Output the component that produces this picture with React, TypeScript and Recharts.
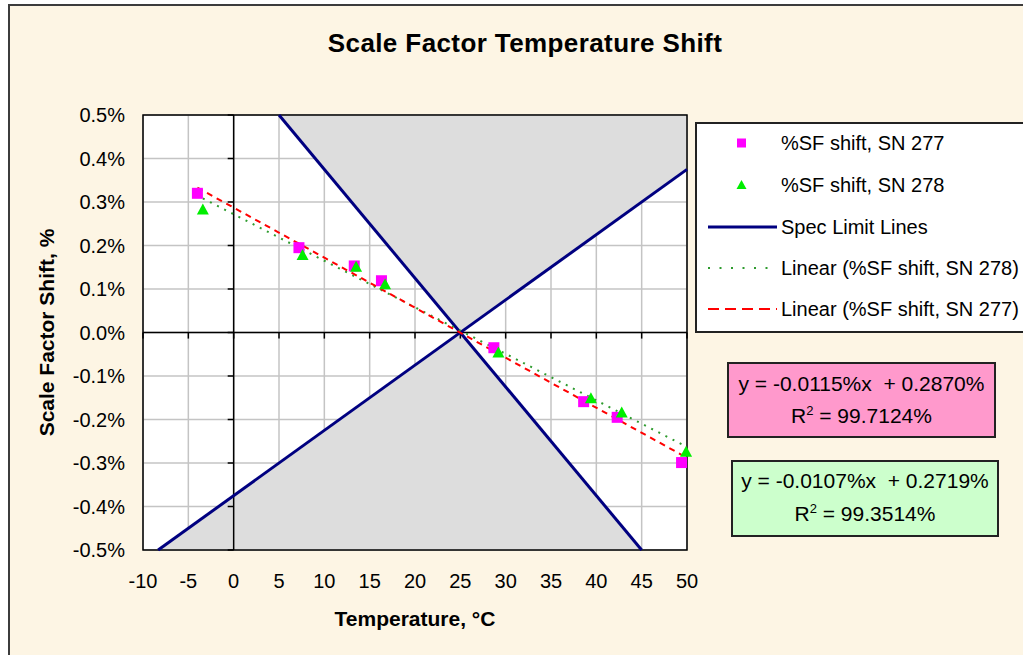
import React from 'react';
import {
  ComposedChart,
  Scatter,
  Line,
  Area,
  XAxis,
  YAxis,
  CartesianGrid,
  ReferenceLine,
  ReferenceArea,
  Label,
} from 'recharts';

// ---------- data ----------
const xTicks = [-10, -5, 0, 5, 10, 15, 20, 25, 30, 35, 40, 45, 50];
const yTicks = [-0.5, -0.4, -0.3, -0.2, -0.1, 0, 0.1, 0.2, 0.3, 0.4, 0.5];

const sn277Temp = [-4, 7.2, 13.3, 16.3, 28.7, 38.6, 42.3, 49.4];
const sn277Shift = [0.32, 0.195, 0.153, 0.119, -0.035, -0.159, -0.195, -0.299];

const sn278Temp = [-3.4, 7.6, 13.5, 16.7, 29.2, 39.4, 42.8, 49.9];
const sn278Shift = [0.283, 0.178, 0.151, 0.111, -0.046, -0.151, -0.184, -0.274];

// linear trendlines (from the displayed equations)
const trend277Coef = [-0.0115, 0.287];
const trend278Coef = [-0.0107, 0.2719];

// spec limit lines
const specFallTemp = [5, 45];
const specFallShift = [0.5, -0.5];
const specRiseTemp = [-8.33, 50];
const specRiseShift = [-0.5, 0.375];

// out-of-spec shaded zones (low/high bounds)
const topZoneTemp = [5, 25, 50];
const topZoneLow = [0.5, 0, 0.375];
const topZoneHigh = [0.5, 0.5, 0.5];
const bottomZoneTemp = [-8.33, 25, 45];
const bottomZoneLow = [-0.5, -0.5, -0.5];
const bottomZoneHigh = [-0.5, 0, -0.5];

const legendLabels = [
  '%SF shift, SN 277',
  '%SF shift, SN 278',
  'Spec Limit Lines',
  'Linear (%SF shift, SN 278)',
  'Linear (%SF shift, SN 277)',
];

// ---------- build ----------
const pts = (xs: number[], ys: number[]) => xs.map((x, i) => ({ x, y: ys[i] }));
const zone = (xs: number[], lo: number[], hi: number[]) =>
  xs.map((x, i) => ({ x, range: [lo[i], hi[i]] }));
const trend = (xs: number[], c: number[]) => {
  const a = Math.min(...xs);
  const b = Math.max(...xs);
  return [a, b].map((x) => ({ x, y: c[0] * x + c[1] }));
};

const data277 = pts(sn277Temp, sn277Shift);
const data278 = pts(sn278Temp, sn278Shift);
const trend277 = trend(sn277Temp, trend277Coef);
const trend278 = trend(sn278Temp, trend278Coef);
const specFall = pts(specFallTemp, specFallShift);
const specRise = pts(specRiseTemp, specRiseShift);
const topZone = zone(topZoneTemp, topZoneLow, topZoneHigh);
const bottomZone = zone(bottomZoneTemp, bottomZoneLow, bottomZoneHigh);

const FONT = '"Liberation Sans", Arial, sans-serif';
const MAGENTA = '#FF00FF';
const GREEN = '#00EE00';
const NAVY = '#000080';

const Square = (p: any) => (
  <rect x={p.cx - 5.5} y={p.cy - 5.5} width={11} height={11} fill={MAGENTA} />
);
const Tri = (p: any) => (
  <polygon
    points={`${p.cx},${p.cy - 6} ${p.cx + 6},${p.cy + 5} ${p.cx - 6},${p.cy + 5}`}
    fill={GREEN}
  />
);

const fmtY = (v: number) => `${v.toFixed(1)}%`;

const YLabel = (props: any) => {
  const vb = props.viewBox;
  const cx = vb.x - 17;
  const cy = vb.y + vb.height / 2;
  return (
    <text
      x={cx}
      y={cy}
      transform={`rotate(-90 ${cx} ${cy})`}
      textAnchor="middle"
      dominantBaseline="central"
      fontFamily={FONT}
      fontWeight="bold"
      fontSize={21}
      fill="#000"
    >
      Scale Factor Shift, %
    </text>
  );
};

export default function App() {
  const legendRows = [143, 185, 227, 268, 309];
  return (
    <div
      style={{
        position: 'relative',
        width: 1023,
        height: 655,
        overflow: 'hidden',
        background: '#fff',
        fontFamily: FONT,
      }}
    >
      <style>{`body{margin:0}`}</style>
      <div
        style={{
          position: 'absolute',
          left: 8,
          top: 4,
          width: 1100,
          height: 700,
          background: '#FDF5E4',
          border: '2px solid #3c3c3c',
        }}
      />
      <div style={{ position: 'absolute', left: 0, top: 0 }}>
        <ComposedChart
          width={1023}
          height={655}
          margin={{ top: 115, right: 336, bottom: 65, left: 63 }}
        >
          <CartesianGrid fill="#fff" stroke="#C4C4C4" strokeWidth={1.5} />
          <XAxis
            type="number"
            dataKey="x"
            domain={[-10, 50]}
            ticks={xTicks}
            interval={0}
            axisLine={false}
            tickLine={false}
            tickSize={0}
            tickMargin={24}
            height={40}
            tick={{ fill: '#000', fontSize: 20, fontFamily: FONT }}
          >
            <Label
              value="Temperature, °C"
              position="bottom"
              offset={21}
              style={{ fontFamily: FONT, fontWeight: 'bold', fontSize: 21, fill: '#000' }}
            />
          </XAxis>
          <YAxis
            type="number"
            dataKey="y"
            domain={[-0.5, 0.5]}
            ticks={yTicks}
            interval={0}
            axisLine={false}
            tickLine={false}
            tickSize={0}
            tickMargin={18}
            width={80}
            tickFormatter={fmtY}
            tick={{ fill: '#000', fontSize: 20, fontFamily: FONT }}
          >
            <Label content={YLabel} position="left" />
          </YAxis>

          <Area
            data={topZone}
            dataKey="range"
            type="linear"
            fill="#DDDDDD"
            fillOpacity={1}
            stroke="none"
            isAnimationActive={false}
          />
          <Area
            data={bottomZone}
            dataKey="range"
            type="linear"
            fill="#DDDDDD"
            fillOpacity={1}
            stroke="none"
            isAnimationActive={false}
          />

          <ReferenceLine x={0} stroke="#000" strokeWidth={1.5} />
          <ReferenceLine y={0} stroke="#000" strokeWidth={1.5} />
          {yTicks.map((v) => (
            <ReferenceLine
              key={'ty' + v}
              segment={[
                { x: -0.66, y: v },
                { x: 0, y: v },
              ]}
              stroke="#000"
              strokeWidth={1.5}
            />
          ))}
          {xTicks.map((v) => (
            <ReferenceLine
              key={'tx' + v}
              segment={[
                { x: v, y: 0 },
                { x: v, y: -0.014 },
              ]}
              stroke="#000"
              strokeWidth={1.5}
            />
          ))}

          <Line
            data={specFall}
            dataKey="y"
            type="linear"
            stroke={NAVY}
            strokeWidth={3}
            dot={false}
            isAnimationActive={false}
          />
          <Line
            data={specRise}
            dataKey="y"
            type="linear"
            stroke={NAVY}
            strokeWidth={3}
            dot={false}
            isAnimationActive={false}
          />

          <Scatter data={data277} dataKey="y" shape={Square} isAnimationActive={false} />
          <Scatter data={data278} dataKey="y" shape={Tri} isAnimationActive={false} />

          <Line
            data={trend278}
            dataKey="y"
            type="linear"
            stroke="#2E9B2E"
            strokeWidth={2}
            strokeDasharray="2 6"
            dot={false}
            isAnimationActive={false}
          />
          <Line
            data={trend277}
            dataKey="y"
            type="linear"
            stroke="#FF0000"
            strokeWidth={2}
            strokeDasharray="6 5"
            dot={false}
            isAnimationActive={false}
          />

          <ReferenceArea
            x1={-10}
            x2={50}
            y1={-0.5}
            y2={0.5}
            fill="none"
            stroke="#000"
            strokeWidth={1.5}
          />
        </ComposedChart>
      </div>

      <svg
        width={1023}
        height={655}
        style={{ position: 'absolute', left: 0, top: 0, pointerEvents: 'none' }}
        fontFamily={FONT}
      >
        <text
          x={525}
          y={52}
          textAnchor="middle"
          fontSize={26}
          fontWeight="bold"
          fill="#000"
          letterSpacing={0.4}
        >
          Scale Factor Temperature Shift
        </text>

        {/* legend */}
        <rect x={696} y={123} width={400} height={209} fill="#fff" stroke="#222" strokeWidth={2} />
        <rect x={737} y={legendRows[0] - 4.5} width={9} height={9} fill={MAGENTA} />
        <polygon
          points={`${741.5},${legendRows[1] - 5} ${746.5},${legendRows[1] + 4} ${736.5},${legendRows[1] + 4}`}
          fill={GREEN}
        />
        <line x1={708} x2={777} y1={legendRows[2]} y2={legendRows[2]} stroke={NAVY} strokeWidth={3} />
        <line
          x1={708}
          x2={777}
          y1={legendRows[3]}
          y2={legendRows[3]}
          stroke="#2E9B2E"
          strokeWidth={2}
          strokeDasharray="2 9.5"
        />
        <line
          x1={708}
          x2={777}
          y1={legendRows[4]}
          y2={legendRows[4]}
          stroke="#FF0000"
          strokeWidth={2}
          strokeDasharray="11 6"
        />
        {legendLabels.map((t, i) => (
          <text key={t} x={781} y={legendRows[i] + 7} fontSize={20} fill="#000" style={{ whiteSpace: 'pre' }}>
            {t}
          </text>
        ))}

        {/* equation boxes */}
        <rect x={728} y={363} width={267} height={74} fill="#FF99CC" stroke="#222" strokeWidth={2} />
        <text x={861.5} y={390.5} textAnchor="middle" fontSize={21} fill="#000" style={{ whiteSpace: 'pre' }}>
          {'y = -0.0115%x  + 0.2870%'}
        </text>
        <text x={861.5} y={422.5} textAnchor="middle" fontSize={21} fill="#000" style={{ whiteSpace: 'pre' }}>
          R<tspan dy={-8} fontSize={13}>2</tspan>
          <tspan dy={8}>{' = 99.7124%'}</tspan>
        </text>

        <rect x={732} y={461} width={266} height={75} fill="#CCFFCC" stroke="#222" strokeWidth={2} />
        <text x={865} y={487.5} textAnchor="middle" fontSize={21} fill="#000" style={{ whiteSpace: 'pre' }}>
          {'y = -0.0107%x  + 0.2719%'}
        </text>
        <text x={865} y={520.5} textAnchor="middle" fontSize={21} fill="#000" style={{ whiteSpace: 'pre' }}>
          R<tspan dy={-8} fontSize={13}>2</tspan>
          <tspan dy={8}>{' = 99.3514%'}</tspan>
        </text>
      </svg>
    </div>
  );
}
